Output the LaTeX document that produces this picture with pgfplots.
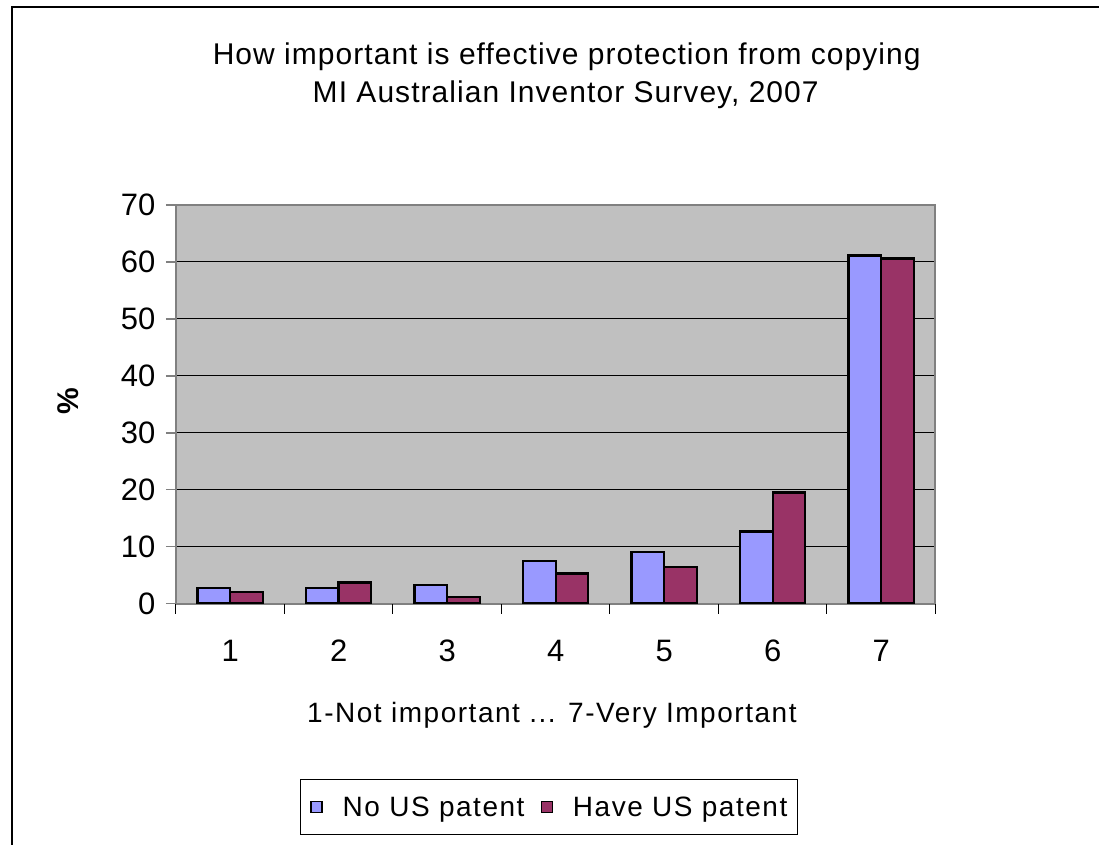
\documentclass[border=0pt]{standalone}
\usepackage{pgfplots}
\pgfplotsset{compat=1.18}
\usepackage{fontspec}
\setmainfont{Liberation Sans}
\newfontfamily\lsfont[LetterSpace=5.5]{Liberation Sans}
\newfontfamily\tsfont[LetterSpace=3.5]{Liberation Sans}
\definecolor{nous}{HTML}{9999FF}
\definecolor{haveus}{HTML}{993366}
\definecolor{plotbg}{HTML}{C0C0C0}
\definecolor{axgray}{HTML}{808080}
\begin{document}
\begin{tikzpicture}
\path (0,0) rectangle (1100bp,-845bp);
\draw[line width=1.2bp] (12bp,-845bp) -- (12bp,-7bp) -- (1100bp,-7bp);
\node[anchor=base, font=\tsfont\fontsize{30bp}{36bp}\selectfont] at (567bp,-65bp) {How important is effective protection from copying};
\node[anchor=base, font=\tsfont\fontsize{30bp}{36bp}\selectfont] at (566bp,-103bp) {MI Australian Inventor Survey, 2007};
\begin{axis}[
  at={(176bp,-604bp)}, anchor=south west,
  width=760bp, height=399bp, scale only axis,
  xmin=0.5, xmax=7.5, ymin=0, ymax=70,
  ybar=0pt, bar width=0.3,
  tick pos=left,
  xtick={1,...,7},
  xtick style={draw=none},
  extra x ticks={0.5,1.5,...,7.5},
  extra x tick labels={},
  extra x tick style={grid=none, xtick style={draw=black, line width=1bp}},
  ytick={0,10,...,70},
  ytick style={draw=axgray, line width=1.5bp},
  ymajorgrids,
  major grid style={black, line width=0.9bp},
  tick align=outside, major tick length=10bp,
  axis background/.style={fill=plotbg},
  axis line style={axgray, line width=2bp},
  ticklabel style={font=\fontsize{31bp}{37bp}\selectfont},
  yticklabel style={xshift=-7bp},
  xticklabel style={yshift=-23bp},
  /pgf/number format/assume math mode=true,
  xlabel={1-Not important ... 7-Very Important},
  xlabel style={font=\lsfont\fontsize{28bp}{34bp}\selectfont, at={(axis description cs:0.495,-0.298)}, anchor=base},
  legend columns=2,
  legend style={at={(0.491,-0.51)}, anchor=center, draw=black, fill=white,
    font=\lsfont\fontsize{28bp}{34bp}\selectfont, line width=1bp,
    inner xsep=10bp, inner ysep=15bp,
    nodes={inner xsep=0pt},
    /tikz/every odd column/.append style={column sep=20bp},
    /tikz/every even column/.append style={column sep=16bp}},
  legend image code/.code={\draw[#1,line width=1.4bp] (0bp,-5.5bp) rectangle (11bp,5.5bp);},
]
\addplot[draw=black, line width=2.4bp, fill=nous] coordinates {(1,2.7) (2,2.7) (3,3.3) (4,7.5) (5,9.1) (6,12.7) (7,61.1)};
\addplot[draw=black, line width=2.4bp, fill=haveus] coordinates {(1,2.1) (2,3.7) (3,1.2) (4,5.3) (5,6.4) (6,19.5) (7,60.6)};
\legend{No US patent, Have US patent}
\end{axis}
\node[rotate=90, font=\bfseries\fontsize{30bp}{36bp}\selectfont] at (68bp,-401bp) {\%};
\end{tikzpicture}
\end{document}
